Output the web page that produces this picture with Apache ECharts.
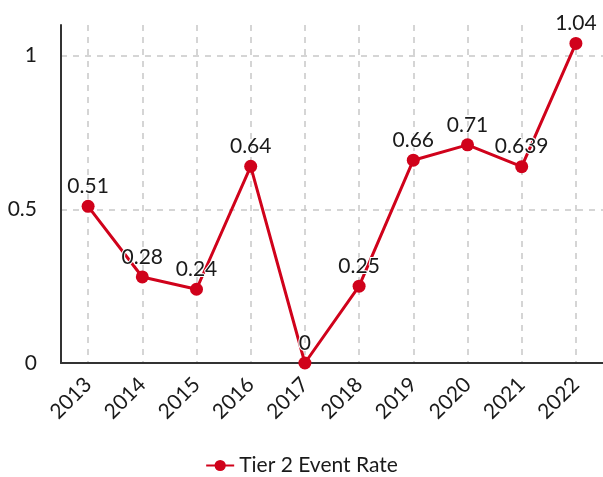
<!DOCTYPE html>
<html>
<head>
<meta charset="utf-8">
<script src="https://cdn.jsdelivr.net/npm/echarts@6/dist/echarts.min.js"></script>
<style>
  html, body { margin: 0; padding: 0; background: #fff; }
  #chart { width: 603px; height: 477px; }
</style>
</head>
<body>
<div id="chart"></div>
<script>
// Chart data
const years = ['2013', '2014', '2015', '2016', '2017', '2018', '2019', '2020', '2021', '2022'];
const eventRate = [0.51, 0.28, 0.24, 0.64, 0, 0.25, 0.66, 0.71, 0.639, 1.04];
const seriesName = 'Tier 2 Event Rate';

const RED = '#d0021b';
const TEXT = '#1a1a1a';
const GRID = '#c8c8c8';
const FONT = 'Lato';

const chart = echarts.init(document.getElementById('chart'));

const option = {
  backgroundColor: '#fff',
  textStyle: { fontFamily: FONT },
  animation: false,
  grid: { left: 61, right: 0, top: 25, bottom: 114 },
  legend: {
    data: [seriesName],
    bottom: -4,
    left: 'center',
    itemWidth: 28,
    itemHeight: 14,
    itemGap: 10,
    textStyle: { color: TEXT, fontSize: 21, fontFamily: FONT },
  },
  xAxis: {
    type: 'category',
    data: years,
    boundaryGap: true,
    axisLine: { lineStyle: { color: '#333', width: 2 } },
    axisTick: { show: false },
    axisLabel: { color: TEXT, fontSize: 21, rotate: 45, margin: 18, fontFamily: FONT },
    splitLine: {
      show: true,
      alignWithLabel: true,
      lineStyle: { color: GRID, type: [6, 6], width: 1.5 },
    },
  },
  yAxis: {
    type: 'value',
    min: 0,
    max: 1.1,
    interval: 0.5,
    axisLine: { show: true, lineStyle: { color: '#333', width: 2 } },
    axisTick: { show: false },
    axisLabel: {
      color: TEXT, fontSize: 21, margin: 24, fontFamily: FONT,
      showMaxLabel: false,
    },
    splitLine: {
      show: true,
      showMaxLine: false,
      lineStyle: { color: GRID, type: [6, 6], width: 1.5 },
    },
  },
  series: [
    {
      name: seriesName,
      type: 'line',
      data: eventRate,
      symbol: 'circle',
      symbolSize: 13,
      lineStyle: { color: RED, width: 3 },
      itemStyle: { color: RED },
      label: {
        show: true,
        position: 'top',
        distance: 3,
        color: TEXT,
        fontSize: 21,
        fontFamily: FONT,
        textBorderColor: '#fff',
        textBorderWidth: 2,
      },
    },
  ],
};

chart.setOption(option);
</script>
</body>
</html>
